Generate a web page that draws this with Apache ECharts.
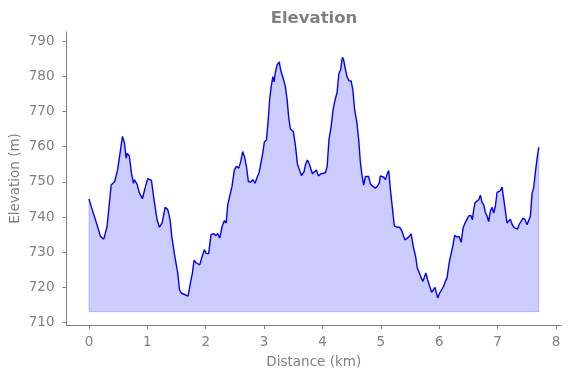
<!DOCTYPE html>
<html>
<head>
<meta charset="utf-8">
<script src="https://cdn.jsdelivr.net/npm/echarts@6/dist/echarts.min.js"></script>
<style>
  html, body { margin: 0; padding: 0; background: #fff; }
  #chart { width: 571px; height: 378px; }
</style>
</head>
<body>
<div id="chart"></div>
<script>
// profil d'altitude, valeurs
var distance = [
    0, 0.065, 0.128, 0.197, 0.254, 0.31, 0.38, 0.44, 0.49, 0.574, 0.608, 0.637, 0.654, 0.69,
    0.728, 0.762, 0.78, 0.825, 0.86, 0.88, 0.916, 0.96, 1.007, 1.036, 1.07, 1.11, 1.167, 1.207,
    1.253, 1.305, 1.35, 1.39, 1.418, 1.44, 1.47, 1.52, 1.55, 1.58, 1.613, 1.647, 1.67, 1.698,
    1.738, 1.772, 1.80, 1.835, 1.863, 1.897, 1.938, 1.978, 2.01, 2.05, 2.09, 2.137, 2.17, 2.205,
    2.24, 2.28, 2.32, 2.35, 2.377, 2.41, 2.45, 2.49, 2.525, 2.565, 2.6, 2.633, 2.663, 2.697,
    2.73, 2.765, 2.805, 2.845, 2.885, 2.914, 2.94, 2.976, 3.005, 3.04, 3.07, 3.096, 3.125, 3.15,
    3.17, 3.19, 3.22, 3.245, 3.26, 3.28, 3.3, 3.336, 3.365, 3.394, 3.42, 3.45, 3.47, 3.5,
    3.535, 3.57, 3.605, 3.64, 3.685, 3.707, 3.74, 3.77, 3.793, 3.827, 3.86, 3.895, 3.93, 3.976,
    4.01, 4.05, 4.08, 4.11, 4.148, 4.18, 4.215, 4.25, 4.28, 4.31, 4.34, 4.36, 4.39, 4.42,
    4.454, 4.49, 4.52, 4.55, 4.59, 4.62, 4.65, 4.68, 4.705, 4.735, 4.763, 4.79, 4.82, 4.866,
    4.906, 4.945, 4.974, 4.99, 5.02, 5.05, 5.077, 5.106, 5.134, 5.163, 5.2, 5.23, 5.277, 5.32,
    5.363, 5.41, 5.437, 5.476, 5.517, 5.56, 5.595, 5.623, 5.66, 5.69, 5.72, 5.745, 5.77, 5.8,
    5.836, 5.87, 5.904, 5.928, 5.95, 5.973, 6.007, 6.04, 6.075, 6.104, 6.133, 6.168, 6.2, 6.236,
    6.264, 6.305, 6.34, 6.374, 6.408, 6.442, 6.476, 6.51, 6.545, 6.567, 6.59, 6.613, 6.647, 6.675,
    6.704, 6.733, 6.76, 6.79, 6.82, 6.846, 6.875, 6.905, 6.932, 6.96, 6.99, 7.024, 7.046, 7.075,
    7.103, 7.13, 7.16, 7.19, 7.217, 7.25, 7.287, 7.32, 7.343, 7.366, 7.4, 7.435, 7.47, 7.503,
    7.53, 7.56, 7.59, 7.616, 7.645, 7.675, 7.705
];
var elevation = [
    745.1, 741.6, 738.3, 734.5, 733.7, 737.3, 749.1, 750.1, 753.4, 762.9, 761, 756.7, 758.1, 757.4,
    752.5, 749.6, 750.6, 749.3, 747, 747.3, 745.2, 748.2, 750.9, 750.4, 750.4, 745.4, 739.2, 737.1,
    738.3, 742.8, 742.1, 739.2, 734.5, 734.3, 728.8, 724.1, 719.4, 718.4, 718.9, 717.9, 718.2, 717.5,
    721.3, 724.1, 727.7, 727, 727.4, 726.4, 728.8, 730.7, 729.6, 729.6, 735, 735.3, 734.7, 735.3,
    734, 737.3, 739, 738.3, 743.5, 744, 748.7, 753.4, 754.4, 753.9, 755.8, 758.6, 757.2, 754.4,
    750.1, 749.9, 750.6, 749.6, 751.5, 752.6, 752.3, 758.1, 761.4, 761.9, 767.6, 773.7, 777.5, 779.9,
    778.4, 780.8, 783.2, 782.7, 784.1, 782, 782, 778.9, 777, 773.3, 768.5, 765, 765.5, 764.3,
    760.5, 755.1, 753.4, 751.8, 752.9, 754.8, 756.2, 755.3, 755.5, 752.3, 752.1, 753.4, 751.7, 752.3,
    751.9, 752.6, 754.4, 761.9, 765.7, 770.4, 773.3, 775.4, 780.8, 781.8, 785.4, 784.8, 782.2, 779.9,
    778.7, 778.7, 776.1, 770.6, 766.7, 761.9, 755.3, 751.5, 749.1, 751.5, 751, 751.5, 749.4, 748.7,
    748.2, 748.9, 749.8, 751.7, 751.5, 751.3, 750.6, 752.2, 753.2, 747.7, 742.1, 737.5, 737.1, 737.1,
    735.9, 733.5, 734, 734.3, 735.2, 731.2, 728.8, 725.5, 724.1, 722.7, 721.7, 722, 724.1, 722.2,
    720.3, 718.6, 719.4, 720, 718.4, 717, 718.4, 718.4, 720.3, 721.7, 722.7, 726.9, 729.3, 732.1,
    734.8, 734.3, 734.5, 732.8, 736.9, 738.3, 739.4, 740.4, 740.4, 739.2, 742.1, 744.1, 743.8, 744.9,
    746.2, 744.1, 743.5, 741.3, 740.2, 738.7, 741.6, 742.8, 741.1, 743, 747, 747, 747.5, 748.5,
    748.2, 742.1, 738.3, 738.5, 739.4, 737.8, 736.9, 737.3, 736.6, 737.8, 737.5, 739.7, 739.2, 737.8,
    737.5, 740.2, 746.8, 748.2, 752.5, 756.7, 759.8
];
var baseline = 713.1;
var xTicks = [0, 1, 2, 3, 4, 5, 6, 7, 8];
var yTicks = [710, 720, 730, 740, 750, 760, 770, 780, 790];

var gray = '#808080';
var font = 'DejaVu Sans';

var profile = distance.map(function (d, i) { return [d, elevation[i]]; });
var last = distance.length - 1;
var outline = [
    [distance[0], elevation[0]],
    [distance[0], baseline],
    [distance[last], baseline],
    [distance[last], elevation[last]]
];

var chart = echarts.init(document.getElementById('chart'));
chart.setOption({
    animation: false,
    title: {
        text: 'Elevation',
        left: 309,
        top: 5,
        textAlign: 'center',
        textStyle: { fontFamily: font, fontSize: 16.5, fontWeight: 'bold', color: gray }
    },
    grid: { left: 66.5, right: 10, top: 32, bottom: 53, containLabel: false, outerBoundsMode: 'none' },
    xAxis: {
        type: 'value',
        min: -0.385,
        max: 8.085,
        name: 'Distance (km)',
        nameLocation: 'middle',
        nameGap: 30,
        nameMoveOverlap: false,
        nameTextStyle: { fontFamily: font, fontSize: 13.5, color: gray },
        splitLine: { show: false },
        axisLine: { show: true, onZero: false, lineStyle: { color: gray, width: 1 } },
        axisTick: { show: true, length: 4, customValues: xTicks, lineStyle: { color: gray } },
        axisLabel: { customValues: xTicks, fontFamily: font, fontSize: 13.5, color: gray, margin: 10 }
    },
    yAxis: {
        type: 'value',
        min: 709.3,
        max: 792.6,
        name: 'Elevation (m)',
        nameLocation: 'middle',
        nameRotate: 90,
        nameGap: 44,
        nameMoveOverlap: false,
        nameTextStyle: { fontFamily: font, fontSize: 13.5, color: gray },
        splitLine: { show: false },
        axisLine: { show: true, onZero: false, lineStyle: { color: gray, width: 1 } },
        axisTick: { show: true, length: 4, customValues: yTicks, lineStyle: { color: gray } },
        axisLabel: { customValues: yTicks, fontFamily: font, fontSize: 13.5, color: gray, margin: 12 }
    },
    series: [
        {
            type: 'line',
            data: profile,
            showSymbol: false,
            symbol: 'none',
            lineStyle: { color: '#0000ff', width: 1.4 },
            areaStyle: { color: 'rgba(0, 0, 255, 0.2)', origin: baseline, opacity: 1 },
            z: 3
        },
        {
            type: 'line',
            data: outline,
            symbol: 'none',
            lineStyle: { color: 'rgba(0, 0, 255, 0.2)', width: 1 },
            z: 2
        }
    ]
});
</script>
</body>
</html>
